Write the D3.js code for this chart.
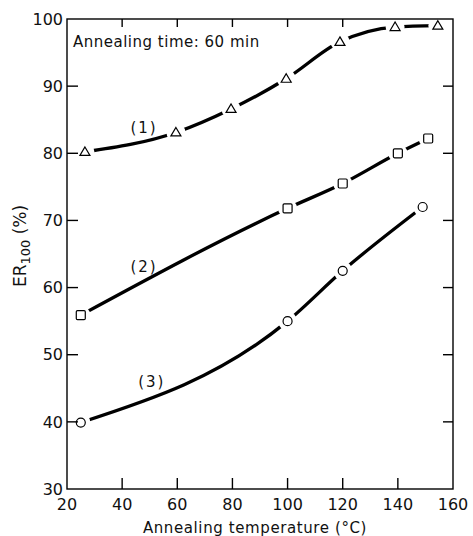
<!DOCTYPE html>
<html>
<head>
<meta charset="utf-8">
<script src="https://cdn.jsdelivr.net/npm/d3@7"></script>
<style>
  html, body { margin: 0; padding: 0; background: #fff; }
  svg { display: block; }
  text { font-family: "DejaVu Sans", sans-serif; fill: #111; }
</style>
</head>
<body>
<script>
// Annealing temperature (°C) and ER100 (%) for the three samples
const temp1 = [26.5, 59.5, 79.5, 99.5, 119, 139, 154.5];
const er1   = [80.2, 83.1, 86.6, 91.1, 96.6, 98.8, 99.0];
const temp2 = [25, 100, 120, 140, 151];
const er2   = [55.9, 71.8, 75.5, 80.0, 82.2];
const temp3 = [25, 100, 120, 149];
const er3   = [39.9, 55.0, 62.5, 72.0];

const xTicks = [20, 40, 60, 80, 100, 120, 140, 160];
const yTicks = [30, 40, 50, 60, 70, 80, 90, 100];
const curveLabels = ["(1)", "(2)", "(3)"];

const W = 473, H = 536;
const svg = d3.select("body").append("svg").attr("width", W).attr("height", H);

const x = d3.scaleLinear().domain([20, 160]).range([67, 453]);
const y = d3.scaleLinear().domain([30, 100]).range([489, 19]);

// label anchors are given in data units (temperature, ER100)
const series = [
  { xs: temp1, ys: er1, marker: "triangle", label: curveLabels[0], lx: 43, ly: 83.0 },
  { xs: temp2, ys: er2, marker: "square",   label: curveLabels[1], lx: 43, ly: 62.3 },
  { xs: temp3, ys: er3, marker: "circle",   label: curveLabels[2], lx: 45.8, ly: 45.2 }
].map(s => ({ ...s, pts: s.xs.map((v, i) => [v, s.ys[i]]) }));

const line = d3.line()
  .x(d => x(d[0]))
  .y(d => y(d[1]))
  .curve(d3.curveMonotoneX);

// fitted curves
svg.append("g").selectAll("path")
  .data(series)
  .join("path")
  .attr("d", s => line(s.pts))
  .attr("fill", "none")
  .attr("stroke", "#000")
  .attr("stroke-width", 3.3)
  .attr("stroke-linecap", "butt");

// white halos break the curves around each data point
const halo = svg.append("g");
series.forEach(s => {
  halo.selectAll(null)
    .data(s.pts)
    .join("circle")
    .attr("cx", d => x(d[0]))
    .attr("cy", d => y(d[1]))
    .attr("r", 9.5)
    .attr("fill", "#fff");
});

// open markers
const mk = svg.append("g")
  .attr("fill", "#fff")
  .attr("stroke", "#000")
  .attr("stroke-width", 1.2);
series.forEach(s => {
  const g = mk.append("g");
  if (s.marker === "circle") {
    g.selectAll(null).data(s.pts).join("circle")
      .attr("cx", d => x(d[0])).attr("cy", d => y(d[1])).attr("r", 4.5);
  } else if (s.marker === "square") {
    g.selectAll(null).data(s.pts).join("rect")
      .attr("x", d => x(d[0]) - 4.5).attr("y", d => y(d[1]) - 4.5)
      .attr("width", 9).attr("height", 9).attr("rx", 1.2);
  } else {
    g.selectAll(null).data(s.pts).join("path")
      .attr("d", d => {
        const cx = x(d[0]), cy = y(d[1]);
        return `M${cx},${cy - 5}L${cx + 5},${cy + 3.5}L${cx - 5},${cy + 3.5}Z`;
      });
  }
});

// frame and inward ticks
const axes = svg.append("g").attr("stroke", "#000").attr("stroke-width", 1.4).attr("fill", "none");
axes.append("rect")
  .attr("x", x(20)).attr("y", y(100))
  .attr("width", x(160) - x(20)).attr("height", y(30) - y(100));

const innerX = xTicks.filter(v => v > 20 && v < 160);
const innerY = yTicks.filter(v => v > 30 && v < 100);
axes.selectAll(".tb").data(innerX).join("line").attr("class", "tb")
  .attr("x1", d => x(d)).attr("x2", d => x(d))
  .attr("y1", y(30)).attr("y2", y(30) - 11);
axes.selectAll(".tt").data(innerX.filter(v => v !== 140)).join("line").attr("class", "tt")
  .attr("x1", d => x(d)).attr("x2", d => x(d))
  .attr("y1", y(100)).attr("y2", y(100) + 8);
axes.selectAll(".tl").data(innerY).join("line").attr("class", "tl")
  .attr("x1", x(20)).attr("x2", x(20) + 11)
  .attr("y1", d => y(d)).attr("y2", d => y(d));
axes.selectAll(".tr").data(innerY).join("line").attr("class", "tr")
  .attr("x1", x(160)).attr("x2", x(160) - 10)
  .attr("y1", d => y(d)).attr("y2", d => y(d));

// tick labels
svg.append("g").selectAll("text").data(yTicks).join("text")
  .attr("x", x(20) - 4)
  .attr("y", d => y(d))
  .attr("dy", "0.36em")
  .attr("text-anchor", "end")
  .attr("font-size", 16)
  .text(d => d);
svg.append("g").selectAll("text").data(xTicks).join("text")
  .attr("x", d => x(d))
  .attr("y", 510)
  .attr("text-anchor", "middle")
  .attr("font-size", 16)
  .text(d => d);

// axis titles
svg.append("text")
  .attr("x", 255).attr("y", 533)
  .attr("text-anchor", "middle")
  .attr("font-size", 15)
  .attr("letter-spacing", 0.6)
  .text("Annealing temperature (°C)");

const yl = svg.append("text")
  .attr("transform", "translate(26,246) rotate(-90)")
  .attr("text-anchor", "middle")
  .attr("font-size", 17);
yl.append("tspan").text("ER");
yl.append("tspan").attr("font-size", 13).attr("dy", 4).text("100");
yl.append("tspan").attr("dy", -4).text(" (%)");

// annotations
svg.append("text")
  .attr("x", 73).attr("y", 47)
  .attr("font-size", 15)
  .attr("letter-spacing", 0.5)
  .text("Annealing time: 60 min");

svg.append("g").selectAll("text").data(series).join("text")
  .attr("x", s => x(s.lx))
  .attr("y", s => y(s.ly))
  .attr("font-size", 15)
  .attr("letter-spacing", 2)
  .text(s => s.label);
</script>
</body>
</html>
